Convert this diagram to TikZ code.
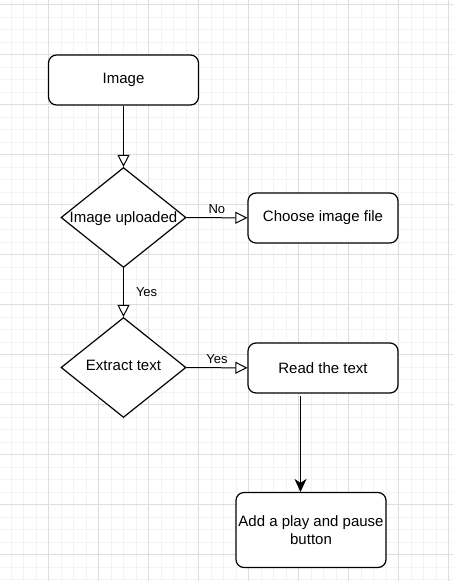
\documentclass[tikz,border=0pt]{standalone}
\usepackage{fontspec}
\setmainfont{Liberation Sans}
\usetikzlibrary{shapes.geometric, arrows.meta}
\definecolor{gridminor}{HTML}{F3F3F3}
\definecolor{gridmajor}{HTML}{DEDEDE}

\begin{document}
\begin{tikzpicture}[x=1pt, y=-1pt,
    box/.style={rectangle, rounded corners=8pt, draw, line width=1.2pt, fill=white,
        minimum width=150pt, minimum height=50pt, inner sep=2pt, align=center,
        font=\fontsize{15}{17.5}\selectfont},
    dec/.style={diamond, draw, line width=1.2pt, fill=white,
        minimum width=125pt, minimum height=100pt, inner sep=0pt},
    flow/.style={line width=1pt, -{Triangle[fill=white, length=12pt, width=12pt]}},
    lbl/.style={font=\fontsize{13}{15}\selectfont, inner sep=2pt}]
\useasboundingbox (0,0) rectangle (453,581);
\fill[white] (0,0) rectangle (453,581);

% Grid
\foreach \x in {11,23.5,...,453}
    \draw[gridminor, line width=1pt] (\x,0) -- (\x,581);
\foreach \y in {4.5,17,...,581}
    \draw[gridminor, line width=1pt] (0,\y) -- (453,\y);
\foreach \x in {48.5,98.5,...,448.5}
    \draw[gridmajor, line width=1pt] (\x,0) -- (\x,581);
\foreach \y in {4.5,54.5,...,554.5}
    \draw[gridmajor, line width=1pt] (0,\y) -- (453,\y);

% Steps
\node[box] (img) at (123.5,80) {Image};
\node[dec, label={[font=\fontsize{15}{18}\selectfont, name=uptxt, yshift=-1pt]center:Image uploaded}] (up) at (123.5,217.5) {};
\node[box] (choose) at (323,218) {Choose image file};
\node[dec, label={[font=\fontsize{15}{18}\selectfont, name=extxt, yshift=2pt]center:Extract text}] (ex) at (123.5,367.5) {};
\node[box] (rd) at (323,368) {Read the text};
\node[box, minimum height=75pt] (add) at (311,530) {Add a play and pause\\button};
\coordinate (rdout) at (300.5,396);

% Connections
\draw[flow] (img) -- (up);
\draw[flow] (up) -- (choose) node[lbl, midway, above, yshift=2pt] {No};
\draw[flow] (up) -- (ex) node[lbl, midway, right, xshift=10pt] {Yes};
\draw[flow] (ex) -- (rd) node[lbl, midway, above, yshift=2pt] {Yes};
\draw[line width=1pt, -{Stealth[length=13pt, width=12pt, inset=4pt]}] (rdout) -- (rdout |- add.north);
\end{tikzpicture}
\end{document}
